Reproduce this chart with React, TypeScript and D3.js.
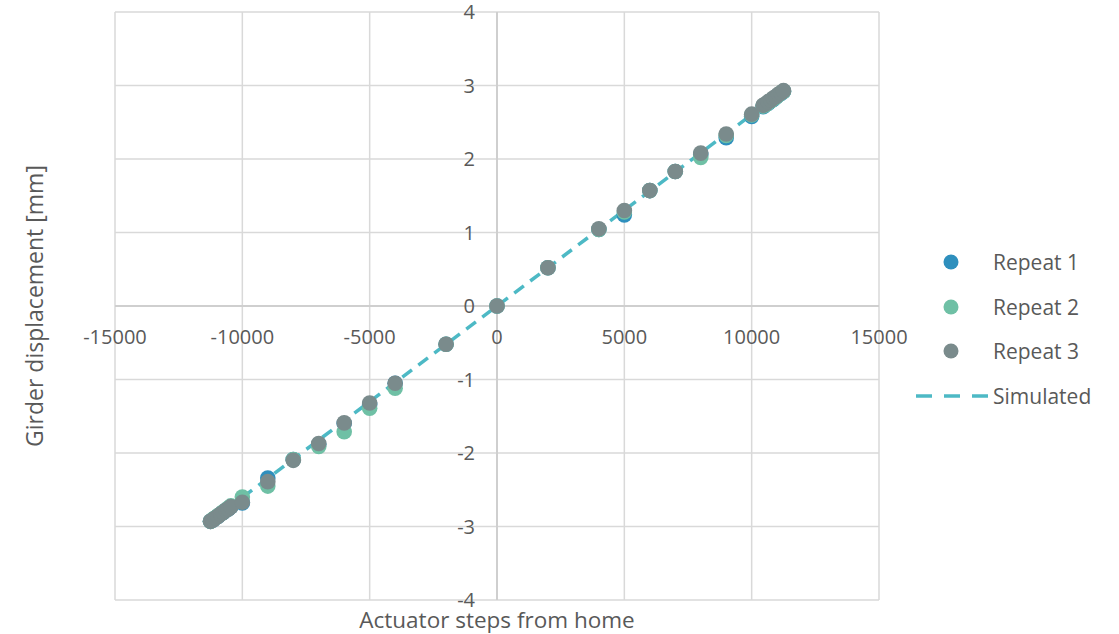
import React from 'react'
import * as d3 from 'd3'

// steps from home and measured girder displacement [mm]
const steps = [
	-11250, -11150, -11050, -10950, -10850, -10750, -10650, -10550, -10450,
	-10000, -9000, -8000, -7000, -6000, -5000, -4000, -2000, 0, 2000, 4000,
	5000, 6000, 7000, 8000, 9000, 10000, 10450, 10550, 10650, 10750, 10850,
	10950, 11050, 11150, 11250,
]
const repeat1 = [
	-2.93, -2.91, -2.88, -2.86, -2.83, -2.81, -2.78, -2.76, -2.73, -2.68,
	-2.34, -2.09, -1.88, -1.6, -1.34, -1.05, -0.52, 0, 0.52, 1.04, 1.24,
	1.57, 1.83, 2.06, 2.29, 2.58, 2.71, 2.74, 2.76, 2.79, 2.81, 2.84, 2.87,
	2.89, 2.92,
]
const repeat2 = [
	-2.93, -2.9, -2.88, -2.85, -2.83, -2.8, -2.78, -2.75, -2.72, -2.6, -2.45,
	-2.09, -1.91, -1.71, -1.39, -1.12, -0.52, 0, 0.52, 1.04, 1.28, 1.57,
	1.83, 2.02, 2.32, 2.6, 2.72, 2.74, 2.77, 2.79, 2.82, 2.84, 2.87, 2.9,
	2.92,
]
const repeat3 = [
	-2.93, -2.91, -2.88, -2.86, -2.83, -2.81, -2.78, -2.76, -2.73, -2.67,
	-2.39, -2.1, -1.87, -1.59, -1.32, -1.05, -0.52, 0, 0.52, 1.05, 1.3, 1.57,
	1.83, 2.08, 2.34, 2.61, 2.73, 2.75, 2.78, 2.8, 2.83, 2.85, 2.88, 2.9,
	2.93,
]
const simSteps = [-11250, 11250]
const simDisp = [-2.93, 2.93]

const xTicks = [-15000, -10000, -5000, 0, 5000, 10000, 15000]
const yTicks = [-4, -3, -2, -1, 0, 1, 2, 3, 4]

const series = [
	{ name: 'Repeat 1', values: repeat1, color: '#2e8fbd' },
	{ name: 'Repeat 2', values: repeat2, color: '#6fc0a5' },
	{ name: 'Repeat 3', values: repeat3, color: '#7a8b8c' },
]
const simColor = '#4db9c5'

const font = "'Open Sans', 'Noto Sans', sans-serif"
const textColor = '#595959'
const gridColor = '#d9d9d9'

const App = () => {
	const width = 1119,
		height = 634
	const x = d3.scaleLinear().domain([-15000, 15000]).range([115, 879])
	const y = d3.scaleLinear().domain([-4, 4]).range([600, 12])

	const simLine = d3
		.line<number>()
		.x((d) => x(d))
		.y((d, i) => y(simDisp[i]))

	const legendY = [262, 307, 351, 396]

	return (
		<div style={{ position: 'absolute', left: 0, top: 0 }}>
			<svg width={width} height={height} style={{ display: 'block' }}>
				<rect width={width} height={height} fill="#fff" />
				{/* grid */}
				{xTicks.map((t) => (
					<line
						key={'gx' + t}
						x1={x(t)}
						x2={x(t)}
						y1={y(4)}
						y2={y(-4)}
						stroke={gridColor}
						strokeWidth={1.5}
					/>
				))}
				{yTicks.map((t) => (
					<line
						key={'gy' + t}
						x1={x(-15000)}
						x2={x(15000)}
						y1={y(t)}
						y2={y(t)}
						stroke={gridColor}
						strokeWidth={1.5}
					/>
				))}
				{/* axes through zero */}
				<line x1={x(0)} x2={x(0)} y1={y(4)} y2={y(-4)} stroke="#cfcfcf" strokeWidth={2} />
				<line x1={x(-15000)} x2={x(15000)} y1={y(0)} y2={y(0)} stroke="#cfcfcf" strokeWidth={2} />

				{/* tick labels */}
				{xTicks.map((t) => (
					<text
						key={'tx' + t}
						x={x(t)}
						y={y(0) + 33}
						textAnchor="middle"
						dominantBaseline="middle"
						fontFamily={font}
						fontSize={20}
						fill={textColor}
					>
						{t}
					</text>
				))}
				{yTicks.map((t) => (
					<text
						key={'ty' + t}
						x={x(0) - 22}
						y={y(t) + 2}
						textAnchor="end"
						dominantBaseline="middle"
						fontFamily={font}
						fontSize={20}
						fill={textColor}
					>
						{t}
					</text>
				))}

				{/* simulated */}
				<path
					d={simLine(simSteps) || ''}
					fill="none"
					stroke={simColor}
					strokeWidth={3.5}
					strokeDasharray="12,8"
				/>

				{/* measured */}
				{series.map((s) => (
					<g key={s.name}>
						{steps.map((st, i) => (
							<circle key={i} cx={x(st)} cy={y(s.values[i])} r={7.8} fill={s.color} />
						))}
					</g>
				))}

				{/* axis titles */}
				<text
					x={x(0)}
					y={622}
					textAnchor="middle"
					dominantBaseline="middle"
					fontFamily={font}
					fontSize={22.5}
					fill={textColor}
				>
					Actuator steps from home
				</text>
				<text
					transform={`translate(37,${y(0)}) rotate(-90)`}
					textAnchor="middle"
					dominantBaseline="middle"
					fontFamily={font}
					fontSize={23}
					fill={textColor}
				>
					Girder displacement [mm]
				</text>

				{/* legend */}
				{series.map((s, i) => (
					<g key={'lg' + s.name}>
						<circle cx={951} cy={legendY[i]} r={7.5} fill={s.color} />
						<text
							x={993}
							y={legendY[i] + 2}
							dominantBaseline="middle"
							fontFamily={font}
							fontSize={21}
							fill={textColor}
						>
							{s.name}
						</text>
					</g>
				))}
				<line
					x1={916}
					x2={988}
					y1={legendY[3]}
					y2={legendY[3]}
					stroke={simColor}
					strokeWidth={3.5}
					strokeDasharray="16,12"
				/>
				<text
					x={993}
					y={legendY[3] + 2}
					dominantBaseline="middle"
					fontFamily={font}
					fontSize={21}
					fill={textColor}
				>
					Simulated
				</text>
			</svg>
		</div>
	)
}

export default App
